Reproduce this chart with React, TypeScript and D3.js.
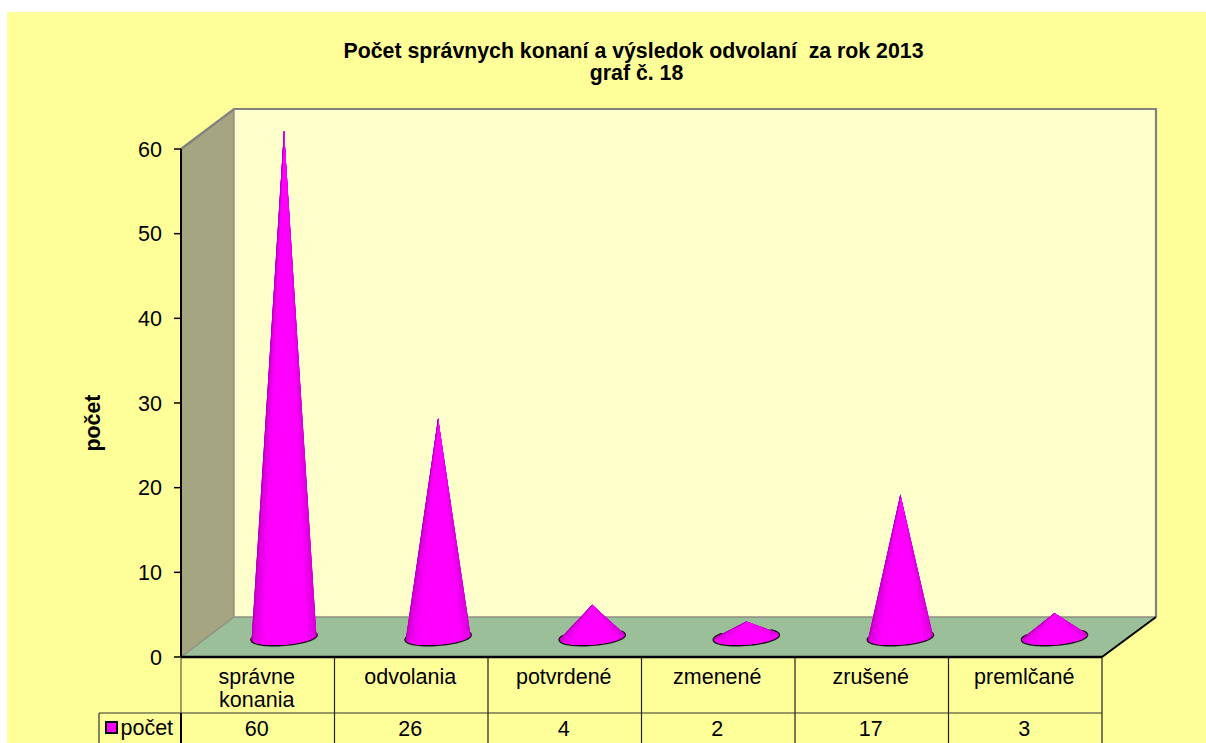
import React from "react";
import * as d3 from "d3";

const categories = ["správne|konania", "odvolania", "potvrdené", "zmenené", "zrušené", "premlčané"];
const values = [60, 26, 4, 2, 17, 3];
const yTicks = [0, 10, 20, 30, 40, 50, 60];
const titleLines = ["Počet správnych konaní a výsledok odvolaní  za rok 2013", "graf č. 18"];
const seriesName = "počet";

const FONT = "'Liberation Sans', Arial, sans-serif";
const W = 1206, H = 743;
const X0 = 181, X1 = 1102, Y0 = 657, Y1 = 149;
const DXL = 53, DXR = 54, DY = -40;
const TABLE_MID = 713;

const x = d3.scaleBand<string>().domain(categories).range([X0, X1]);
const coneX = d3.scalePoint<string>().domain(categories).range([284, 1054.5]);
const y = d3.scaleLinear().domain([0, 60]).range([Y0, Y1]);

const RX = 32.5, RY = 7.4, ROT = (-4.5 * Math.PI) / 180;
const shade = d3.scaleLinear<string>()
  .domain([0, 0.1, 0.3, 0.72, 1])
  .range(["#a800a8", "#d800d8", "#ff00ff", "#ff00ff", "#c400c4"]);

function conePieces(v: number, cat: string) {
  const cx = coneX(cat)!;
  const cy = Y0 + DY / 2 + 0.3;
  const ax = cx, ay = y(v) + DY / 2 + 1.5;
  const cos = Math.cos(ROT), sin = Math.sin(ROT);
  const pt = (t: number): [number, number] => {
    const lx = RX * Math.cos(t), ly = RY * Math.sin(t);
    return [cx + lx * cos - ly * sin, cy + lx * sin + ly * cos];
  };
  const dx = ax - cx, dy = ay - cy;
  const ux = (dx * cos + dy * sin) / RX, uy = (-dx * sin + dy * cos) / RY;
  const d = Math.hypot(ux, uy);
  const base = Math.atan2(uy, ux);
  const off = Math.acos(Math.min(1, 1 / d));
  let a = base + off; while (a < 0) a += 2 * Math.PI;
  if (a > Math.PI / 2) a -= 2 * Math.PI;
  let b = base - off; while (b < Math.PI / 2) b += 2 * Math.PI;
  const n = 20;
  const wedges = d3.range(n).map((i) => {
    const t0 = a + ((b - a) * i) / n, t1 = a + ((b - a) * (i + 1)) / n;
    const p = d3.path();
    p.moveTo(ax, ay);
    p.lineTo(...pt(t0));
    p.lineTo(...pt(t1));
    p.closePath();
    return { d: p.toString(), color: shade(1 - (i + 0.5) / n) };
  });
  const arc = d3.range(0, 41).map((i) => pt(a + ((b - a) * i) / 40));
  const rim = d3.line()(d3.range(0, 41).map((i) => pt(a - 0.2 + ((b - a + 0.4) * i) / 40)))!;
  const outline = d3.line()([[ax, ay], ...arc])! + "Z";
  return { wedges, rim, outline };
}

export default function App() {
  const yy = (Y0 + Y1) / 2;
  const edges = [...categories.map((c) => x(c)!), X1];
  return (
    <svg width={W} height={H} style={{ position: "absolute", left: 0, top: 0 }} fontFamily={FONT}>
      <rect width={W} height={H} fill="#fff" />
      <rect x={7} y={12} width={W - 7} height={H - 12} fill="#FFFF99" />

      {titleLines.map((t, i) => (
        <text key={i} x={i === 0 ? 633.5 : 636.5} y={57.5 + i * 22} textAnchor="middle" fontWeight="bold" fontSize={21.3} fill="#000" style={{ whiteSpace: "pre" }}>{t}</text>
      ))}

      {/* walls */}
      <rect x={X0 + DXL} y={Y1 + DY} width={X1 + DXR - X0 - DXL} height={Y0 - Y1} fill="#FFFFCC" />
      <polygon points={`${X0},${Y1} ${X0 + DXL},${Y1 + DY} ${X0 + DXL},${Y0 + DY} ${X0},${Y0}`} fill="#A5A582" />
      <polygon points={`${X0},${Y0} ${X0 + DXL},${Y0 + DY} ${X1 + DXR},${Y0 + DY} ${X1},${Y0}`} fill="#9BBF99" />
      <path d={`M${X0},${Y1}L${X0 + DXL},${Y1 + DY}H${X1 + DXR}V${Y0 + DY}`} fill="none" stroke="#808080" strokeWidth={2.2} />
      <path d={`M${X0 + DXL},${Y1 + DY}V${Y0 + DY}H${X1 + DXR}M${X0 + DXL},${Y0 + DY}L${X0},${Y0}`} fill="none" stroke="#8f8f80" strokeWidth={1.4} />

      {/* cones */}
      {categories.map((c, i) => {
        const { wedges, rim, outline } = conePieces(values[i], c);
        return (
          <g key={c}>
            <clipPath id={`cone-${i}`}><path d={outline} /></clipPath>
            <path d={rim} fill="none" stroke="#111" strokeWidth={2.8} strokeLinecap="round" />
            <path d={outline} fill="#ff00ff" />
            <g clipPath={`url(#cone-${i})`}>
              {wedges.map((w, j) => (
                <path key={j} d={w.d} fill={w.color} stroke={w.color} strokeWidth={1} />
              ))}
            </g>
          </g>
        );
      })}

      {/* axis */}
      <line x1={X0} x2={X0} y1={Y1} y2={Y0} stroke="#000" strokeWidth={2} />
      {yTicks.map((t) => (
        <g key={t}>
          <line x1={X0 - 7} x2={X0} y1={y(t)} y2={y(t)} stroke="#000" strokeWidth={1.5} />
          <text x={162} y={y(t) + 7.5} textAnchor="end" fontSize={21.5} fill="#000">{t}</text>
        </g>
      ))}
      <text transform={`translate(100,${yy + 20}) rotate(-90)`} textAnchor="middle" fontWeight="bold" fontSize={21.3} fill="#000">{seriesName}</text>

      {/* data table */}
      <line x1={X0} x2={X0} y1={Y0} y2={TABLE_MID} stroke="#77773f" strokeWidth={1.4} />
      <line x1={X0} x2={X0} y1={TABLE_MID} y2={H} stroke="#000" strokeWidth={2} />
      {edges.slice(1).map((e) => (
        <line key={e} x1={e} x2={e} y1={Y0} y2={H} stroke="#222" strokeWidth={1.2} />
      ))}
      <line x1={99} x2={X1} y1={TABLE_MID} y2={TABLE_MID} stroke="#333" strokeWidth={1.2} />
      <line x1={99} x2={99} y1={TABLE_MID} y2={H} stroke="#333" strokeWidth={1.2} />
      <line x1={X0} x2={X1} y1={Y0} y2={Y0} stroke="#000" strokeWidth={2.4} />
      <line x1={X1} x2={X1 + DXR} y1={Y0} y2={Y0 + DY} stroke="#000" strokeWidth={2} />
      <rect x={106} y={722} width={11} height={11} fill="#FF00FF" stroke="#000" strokeWidth={2} />
      <text x={120.5} y={735} fontSize={21.5} fill="#000">{seriesName}</text>
      {categories.map((c, i) => {
        const cx = x(c)! + x.bandwidth() / 2 - 1;
        const lines = c.split("|");
        return (
          <g key={c}>
            {lines.map((l, k) => (
              <text key={k} x={cx} y={684 + k * 23} textAnchor="middle" fontSize={21.5} fill="#000">{l}</text>
            ))}
            <text x={cx} y={736} textAnchor="middle" fontSize={21.5} fill="#000">{values[i]}</text>
          </g>
        );
      })}
    </svg>
  );
}
